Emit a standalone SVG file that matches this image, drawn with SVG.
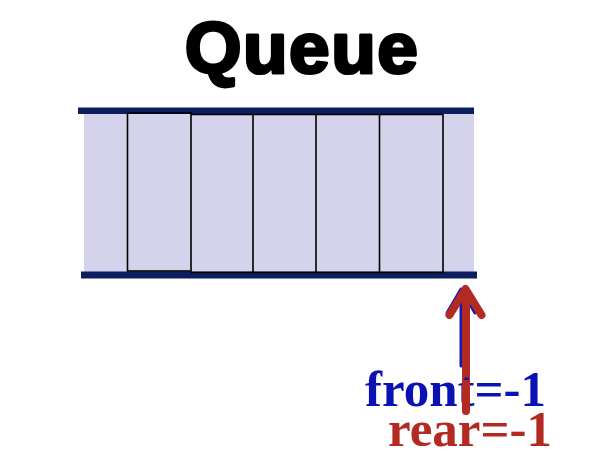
<svg xmlns="http://www.w3.org/2000/svg" width="593" height="476" viewBox="0 0 593 476">
<style>
.bar{fill:#0b1f5e}
.cell{fill:none;stroke:#000;stroke-width:1.6}
.title{font-family:"Liberation Sans",Arial,sans-serif;font-weight:bold;font-size:73px;letter-spacing:1.5px;fill:#000;stroke:#000;stroke-width:3.2;stroke-linejoin:round}
.lbl{font-family:"Liberation Serif","Times New Roman",serif;font-weight:bold;font-size:51px}
</style>
<rect width="593" height="476" fill="#fff"/>
<text class="title" x="302" y="73" text-anchor="middle">Queue</text>
<g id="queue">
<rect x="84" y="114" width="390" height="158" fill="#d4d3eb"/>
<rect class="bar" x="78" y="107.5" width="396" height="6.5"/>
<rect class="bar" x="81" y="271.5" width="396" height="7"/>
<rect class="cell" x="127.5" y="113" width="63.5" height="158"/>
<path class="cell" d="M191,114.5H443V272.5H191M253,114.5V272.5M316,114.5V272.5M379.5,114.5V272.5M443,114.5V272.5"/>
</g>
<g id="connectors">
<path d="M461,366V290M447,313L461,289L475,313" fill="none" stroke="#1018b8" stroke-width="3" stroke-linecap="round" stroke-linejoin="round"/>
<path d="M466,411V292M449.5,315L465.5,289L481.5,315" fill="none" stroke="#b32a22" stroke-width="8" stroke-linecap="round" stroke-linejoin="round"/>
</g>
<g id="labels">
<text class="lbl" x="365" y="406" fill="#0b12b4">front=-1</text>
<text class="lbl" x="388" y="446" fill="#b32a22">rear=-1</text>
</g>
<path d="M466,411V380" stroke="#b32a22" stroke-width="8" stroke-linecap="butt"/>
</svg>
